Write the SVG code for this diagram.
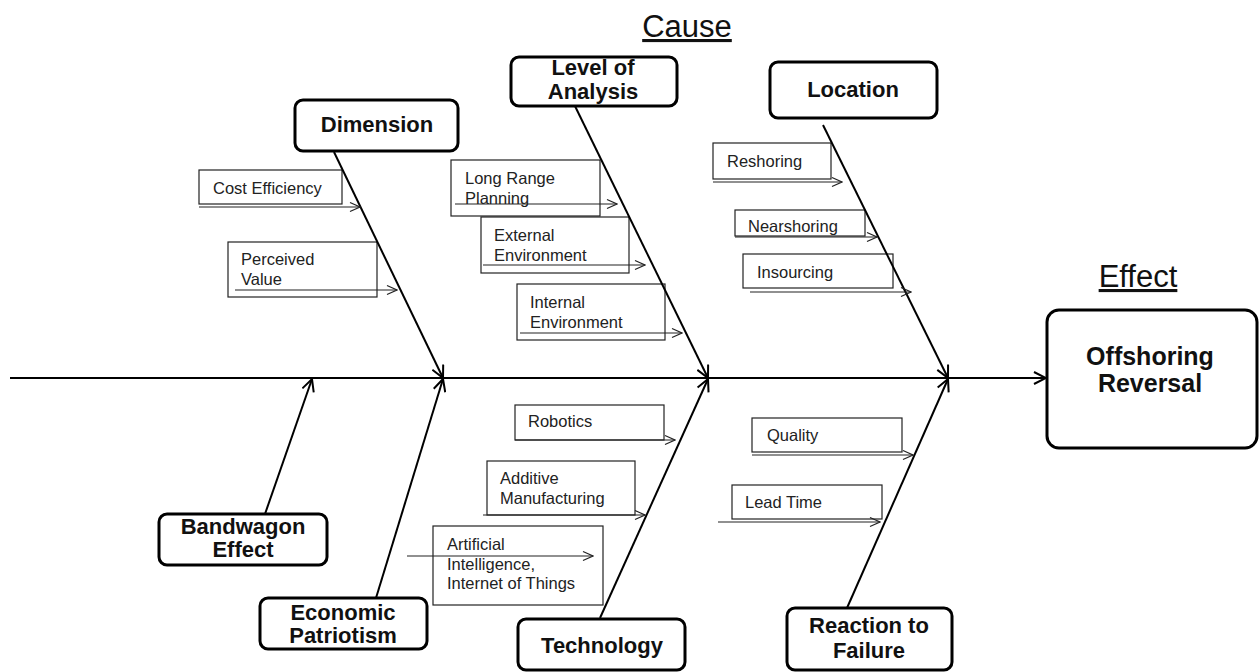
<svg xmlns="http://www.w3.org/2000/svg" width="1259" height="672" viewBox="0 0 1259 672">
<style>
.node{fill:#fff;stroke:#000;stroke-width:3}
.sub{fill:#fff;stroke:#222;stroke-width:1.2}
.bt{font-family:"Liberation Sans",Arial,sans-serif;font-weight:bold;font-size:22px;fill:#111;text-anchor:middle}
.et{font-family:"Liberation Sans",Arial,sans-serif;font-weight:bold;font-size:25px;fill:#111;text-anchor:middle}
.st{font-family:"Liberation Sans",Arial,sans-serif;font-size:16.5px;fill:#222}
.hd{font-family:"Liberation Sans",Arial,sans-serif;font-size:31px;fill:#111;text-anchor:middle;text-decoration:underline}
.bone{stroke:#000;stroke-width:2;fill:none;marker-end:url(#ah)}
.sa{stroke:#222;stroke-width:1.2;fill:none;marker-end:url(#sah)}
</style>
<defs>
<marker id="ah" viewBox="0 0 14 14" refX="13" refY="7" markerWidth="14" markerHeight="14" markerUnits="userSpaceOnUse" orient="auto"><path d="M1,1 L13,7 L1,13" fill="none" stroke="#000" stroke-width="2"/></marker>
<marker id="sah" viewBox="0 0 12 12" refX="11" refY="6" markerWidth="12" markerHeight="12" markerUnits="userSpaceOnUse" orient="auto"><path d="M1,1.5 L11,6 L1,10.5" fill="none" stroke="#222" stroke-width="1.2"/></marker>
</defs>
<rect width="1259" height="672" fill="#fff"/>
<text class="hd" x="687" y="37">Cause</text>
<text class="hd" x="1138" y="287">Effect</text>

<g id="sub-boxes">
<g id="cost-efficiency"><rect class="sub" x="199" y="170" width="143" height="34"/><text class="st" x="213" y="194">Cost Efficiency</text></g>
<g id="perceived-value"><rect class="sub" x="228" y="242" width="149" height="55"/><text class="st" x="241" y="265">Perceived</text><text class="st" x="241" y="285">Value</text></g>
<g id="long-range-planning"><rect class="sub" x="451" y="160" width="149" height="56"/><text class="st" x="465" y="184">Long Range</text><text class="st" x="465" y="204">Planning</text></g>
<g id="external-environment"><rect class="sub" x="481" y="217" width="148" height="56"/><text class="st" x="494" y="241">External</text><text class="st" x="494" y="261">Environment</text></g>
<g id="internal-environment"><rect class="sub" x="517" y="284" width="148" height="56"/><text class="st" x="530" y="308">Internal</text><text class="st" x="530" y="328">Environment</text></g>
<g id="reshoring"><rect class="sub" x="713" y="143" width="118" height="36"/><text class="st" x="727" y="167">Reshoring</text></g>
<g id="nearshoring"><rect class="sub" x="735" y="210" width="130" height="26"/><text class="st" x="748" y="232">Nearshoring</text></g>
<g id="insourcing"><rect class="sub" x="743" y="254" width="150" height="34"/><text class="st" x="757" y="278">Insourcing</text></g>
<g id="robotics"><rect class="sub" x="515" y="405" width="149" height="35"/><text class="st" x="528" y="427">Robotics</text></g>
<g id="additive-manufacturing"><rect class="sub" x="487" y="461" width="148" height="54"/><text class="st" x="500" y="484">Additive</text><text class="st" x="500" y="504">Manufacturing</text></g>
<g id="ai-iot"><rect class="sub" x="433" y="526" width="170" height="79"/><text class="st" x="447" y="550">Artificial</text><text class="st" x="447" y="570">Intelligence,</text><text class="st" x="447" y="589">Internet of Things</text></g>
<g id="quality"><rect class="sub" x="752" y="418" width="150" height="34"/><text class="st" x="767" y="441">Quality</text></g>
<g id="lead-time"><rect class="sub" x="732" y="485" width="150" height="34"/><text class="st" x="745" y="508">Lead Time</text></g>
</g>

<g id="connectors">
<line class="bone" x1="10" y1="378" x2="1046" y2="378"/>
<line class="bone" x1="334" y1="152" x2="443" y2="378"/>
<line class="bone" x1="573" y1="102" x2="708" y2="378"/>
<line class="bone" x1="823" y1="125" x2="948" y2="378"/>
<line class="bone" x1="265" y1="514" x2="312" y2="379"/>
<line class="bone" x1="376" y1="598" x2="443" y2="379"/>
<line class="bone" x1="600" y1="618" x2="708" y2="379"/>
<line class="bone" x1="847" y1="608" x2="948" y2="379"/>
<line class="sa" x1="199" y1="207" x2="360" y2="207"/>
<line class="sa" x1="235" y1="290" x2="397" y2="290"/>
<line class="sa" x1="455" y1="204" x2="617" y2="204"/>
<line class="sa" x1="483" y1="265" x2="645" y2="265"/>
<line class="sa" x1="520" y1="333" x2="682" y2="333"/>
<line class="sa" x1="713" y1="182" x2="842" y2="182"/>
<line class="sa" x1="735" y1="237" x2="877" y2="237"/>
<line class="sa" x1="750" y1="292" x2="911" y2="292"/>
<line class="sa" x1="515" y1="440" x2="675" y2="440"/>
<line class="sa" x1="483" y1="515" x2="645" y2="515"/>
<line class="sa" x1="407" y1="556" x2="593" y2="556"/>
<line class="sa" x1="752" y1="455" x2="913" y2="455"/>
<line class="sa" x1="718" y1="522" x2="880" y2="522"/>
</g>

<g id="dimension"><rect class="node" x="295" y="100" width="163" height="51" rx="8"/><text class="bt" x="377" y="132">Dimension</text></g>
<g id="level-of-analysis"><rect class="node" x="511" y="57" width="166" height="49" rx="8"/><text class="bt" x="593" y="75">Level of</text><text class="bt" x="593" y="99">Analysis</text></g>
<g id="location"><rect class="node" x="770" y="62" width="167" height="56" rx="8"/><text class="bt" x="853" y="97">Location</text></g>
<g id="bandwagon-effect"><rect class="node" x="159" y="514" width="168" height="51" rx="8"/><text class="bt" x="243" y="534">Bandwagon</text><text class="bt" x="243" y="557">Effect</text></g>
<g id="economic-patriotism"><rect class="node" x="260" y="598" width="167" height="51" rx="8"/><text class="bt" x="343" y="620">Economic</text><text class="bt" x="343" y="643">Patriotism</text></g>
<g id="technology"><rect class="node" x="518" y="619" width="167" height="51" rx="8"/><text class="bt" x="602" y="653">Technology</text></g>
<g id="reaction-to-failure"><rect class="node" x="787" y="608" width="165" height="62" rx="8"/><text class="bt" x="869" y="633">Reaction to</text><text class="bt" x="869" y="658">Failure</text></g>
<g id="offshoring-reversal"><rect class="node" x="1047" y="310" width="210" height="138" rx="12"/><text class="et" x="1150" y="365">Offshoring</text><text class="et" x="1150" y="392">Reversal</text></g>
</svg>
